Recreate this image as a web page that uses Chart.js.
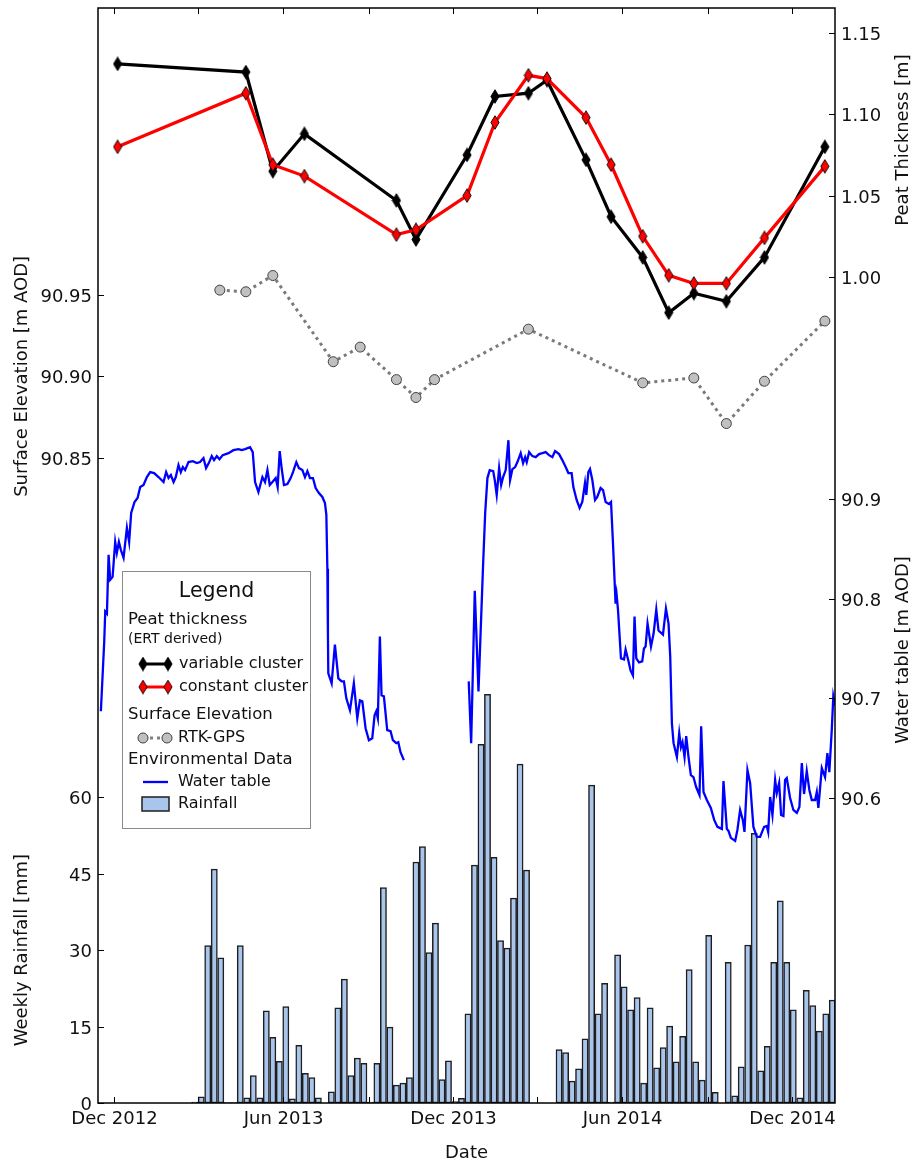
<!DOCTYPE html>
<html>
<head>
<meta charset="utf-8">
<script src="https://cdn.jsdelivr.net/npm/chart.js@4.4.1/dist/chart.umd.min.js"></script>
<style>
html,body{margin:0;padding:0;background:#fff;}
canvas{display:block;}
</style>
</head>
<body>
<canvas id="c" width="920" height="1161"></canvas>
<script>
// ---------------- DATA ----------------
// all dates are converted to "days since 2012-12-01"
const EPOCH = '2012-12-01';

// Peat thickness (ERT derived) [m]
const peatDates = ['2012-12-05','2013-04-22','2013-05-21','2013-06-24','2013-10-01','2013-10-22','2013-12-16','2014-01-15','2014-02-20','2014-03-12','2014-04-23','2014-05-20','2014-06-23','2014-07-21','2014-08-17','2014-09-21','2014-11-01','2015-01-05'];
const peatVariable = [1.131,1.126,1.065,1.088,1.047,1.023,1.075,1.111,1.113,1.121,1.072,1.037,1.012,0.978,0.990,0.985,1.012,1.080];
const peatConstant = [1.080,1.113,1.069,1.062,1.026,1.029,1.050,1.095,1.124,1.122,1.098,1.069,1.025,1.001,0.996,0.996,1.024,1.068];

// Surface elevation (RTK-GPS) [m AOD]
const gpsDates = ['2013-03-25','2013-04-22','2013-05-21','2013-07-25','2013-08-23','2013-10-01','2013-10-22','2013-11-11','2014-02-20','2014-06-23','2014-08-17','2014-09-21','2014-11-01','2015-01-05'];
const gpsElevation = [90.953,90.952,90.962,90.909,90.918,90.898,90.887,90.898,90.929,90.896,90.899,90.871,90.897,90.934];

// Water table [m AOD], two logger records (days since EPOCH)
const waterDays1 = [-14.0,-10.4,-9.3,-7.5,-5.7,-4.0,-1.4,1.4,3.2,5.4,7.5,10.4,14.0,16.4,18.6,22.2,25.5,28.3,31.9,35.5,39.0,43.3,48.0,53.4,56.2,58.8,61.3,64.2,66.6,69.5,72.0,74.2,76.6,80.3,84.9,89.2,92.7,96.4,99.2,102.1,105.3,107.8,110.7,113.6,117.1,123.3,128.6,134.0,137.6,141.1,146.5,149.4,151.9,155.5,159.8,162.6,165.2,167.7,170.6,174.1,176.2,178.4,180.5,183.0,186.7,190.2,192.7,196.3,199.1,202.8,205.6,208.2,211.0,214.2,217.1,220.6,224.3,227.1,228.6,229.7,230.3,230.7,234.3,237.8,241.5,245.0,247.5,250.1,254.0,258.2,261.9,264.7,267.3,270.8,274.4,278.0,280.5,282.3,284.0,286.2,288.0,290.5,294.1,297.7,300.2,303.8,306.0,308.4,312.0];
const waterLevel1 = [90.687,90.757,90.787,90.785,90.844,90.819,90.822,90.857,90.846,90.857,90.849,90.841,90.871,90.857,90.886,90.897,90.901,90.912,90.914,90.922,90.927,90.926,90.922,90.917,90.927,90.921,90.924,90.917,90.922,90.934,90.927,90.932,90.929,90.937,90.938,90.936,90.937,90.941,90.931,90.936,90.943,90.939,90.943,90.940,90.944,90.946,90.949,90.950,90.949,90.950,90.952,90.947,90.917,90.907,90.922,90.917,90.929,90.914,90.917,90.921,90.912,90.948,90.931,90.914,90.915,90.921,90.927,90.937,90.931,90.929,90.922,90.928,90.921,90.921,90.911,90.906,90.902,90.896,90.884,90.830,90.764,90.725,90.715,90.754,90.720,90.717,90.717,90.700,90.688,90.715,90.680,90.698,90.697,90.670,90.658,90.660,90.683,90.687,90.680,90.762,90.703,90.702,90.668,90.667,90.658,90.655,90.656,90.646,90.638];
const waterDays2 = [381.8,384.4,388.3,392.3,394.7,397.3,399.5,401.9,404.4,408.1,409.8,411.9,414.5,416.7,418.8,421.6,424.5,426.3,428.8,431.7,434.2,437.7,440.3,442.5,444.2,446.8,450.3,453.8,457.5,461.0,464.6,468.2,471.8,474.7,479.0,482.5,486.1,489.0,492.5,494.4,497.9,501.1,504.0,506.9,508.3,510.5,512.3,514.8,517.7,520.1,523.7,526.3,529.1,532.7,534.9,537.0,539.8,540.9,542.4,545.6,548.9,550.6,553.5,555.9,558.5,560.2,562.1,565.0,568.5,570.3,572.1,574.2,577.9,580.7,583.6,586.0,590.8,594.0,596.8,598.6,600.4,602.2,605.8,608.3,610.1,611.8,614.0,615.8,618.3,620.8,623.6,626.5,630.1,631.9,634.4,638.0,642.3,645.9,649.4,654.2,655.9,659.5,661.3,663.8,668.5,670.9,673.8,676.7,678.5,681.7,684.6,688.1,691.8,695.3,699.6,702.5,704.0,706.1,708.6,711.5,713.3,715.8,717.9,720.4,722.2,724.0,727.6,731.1,734.8,737.6,740.2,742.6,745.5,748.3,750.9,754.5,756.3,758.0,761.7,765.2,767.7,769.8,772.4,774.1,775.9];
const waterLevel2 = [90.717,90.655,90.808,90.707,90.769,90.835,90.886,90.921,90.929,90.928,90.919,90.904,90.931,90.914,90.922,90.929,90.959,90.919,90.930,90.932,90.937,90.946,90.936,90.942,90.937,90.947,90.943,90.942,90.945,90.946,90.947,90.944,90.942,90.948,90.945,90.939,90.932,90.926,90.926,90.912,90.899,90.891,90.897,90.916,90.904,90.927,90.930,90.919,90.899,90.902,90.911,90.909,90.897,90.895,90.897,90.856,90.795,90.804,90.789,90.740,90.739,90.749,90.738,90.728,90.723,90.782,90.740,90.736,90.737,90.750,90.752,90.775,90.752,90.765,90.789,90.768,90.764,90.790,90.775,90.742,90.675,90.655,90.641,90.665,90.651,90.656,90.641,90.662,90.641,90.623,90.621,90.611,90.603,90.672,90.606,90.598,90.590,90.578,90.571,90.569,90.617,90.569,90.567,90.560,90.557,90.568,90.588,90.578,90.566,90.628,90.615,90.571,90.561,90.561,90.571,90.572,90.566,90.601,90.583,90.618,90.605,90.615,90.583,90.582,90.618,90.620,90.600,90.588,90.585,90.591,90.635,90.604,90.627,90.608,90.598,90.598,90.606,90.590,90.630,90.621,90.645,90.626,90.668,90.702,90.693];

// Weekly rainfall [mm], consecutive weeks from rainStart (null = no record)
const rainStart = '2013-02-26';
const rainWeekly = [0.2,1.2,30.9,45.9,28.5,0.1,0.1,30.9,1.0,5.4,
  1.0,18.1,12.9,8.2,18.9,0.8,11.3,5.8,5.0,1.0,
  0,2.2,18.7,24.3,5.4,8.8,7.8,0.2,7.8,42.3,
  14.9,3.5,3.9,5.0,47.3,50.3,29.5,35.3,4.6,8.3,
  0.3,0.9,17.5,46.7,70.4,80.2,48.2,31.9,30.4,40.2,
  66.5,45.7,null,null,null,null,10.5,9.9,4.3,6.7,
  12.6,62.4,17.5,23.5,0.2,29.1,22.8,18.3,20.7,3.9,
  18.7,6.9,10.9,15.1,8.1,13.1,26.2,8.1,4.5,32.9,
  2.1,0,27.6,1.4,7.1,31.0,52.9,6.3,11.1,27.6,
  39.7,27.6,18.3,1.0,22.1,19.1,14.1,17.5,20.2];

// Axis ticks and labels
const xTickDates  = ['2012-12-01','2013-03-01','2013-06-01','2013-09-01','2013-12-01','2014-03-01','2014-06-01','2014-09-01','2014-12-01'];
const xTickLabels = ['Dec 2012','','Jun 2013','','Dec 2013','','Jun 2014','','Dec 2014'];
const xRange = ['2012-11-15', '2015-01-15'];
const surfTicks  = [90.85, 90.90, 90.95];
const surfLabels = ['90.85','90.90','90.95'];
const surfRange  = [90.4534, 91.1264];
const rainTicks  = [0, 15, 30, 45, 60];
const rainLabels = ['0','15','30','45','60'];
const rainRange  = [0, 214.9];
const peatTicks  = [1.00, 1.05, 1.10, 1.15];
const peatLabels = ['1.00','1.05','1.10','1.15'];
const peatRange  = [0.4919, 1.1654];
const waterTicks  = [90.6, 90.7, 90.8, 90.9];
const waterLabels = ['90.6','90.7','90.8','90.9'];
const waterRange  = [90.294, 91.3926];

const axisTitles = {
  x: 'Date',
  surf: 'Surface Elevation [m AOD]',
  rain: 'Weekly Rainfall [mm]',
  peat: 'Peat Thickness [m]',
  water: 'Water table [m AOD]'
};
const legendTexts = {
  title: 'Legend',
  peatHead: 'Peat thickness',
  peatSub: '(ERT derived)',
  variable: 'variable cluster',
  constant: 'constant cluster',
  surfHead: 'Surface Elevation',
  gps: 'RTK-GPS',
  envHead: 'Environmental Data',
  water: 'Water table',
  rain: 'Rainfall'
};

// ---------------- HELPERS ----------------
function dayOf(s) {
  const [y, m, d] = s.split('-').map(Number);
  const [ey, em, ed] = EPOCH.split('-').map(Number);
  return (Date.UTC(y, m - 1, d) - Date.UTC(ey, em - 1, ed)) / 864e5;
}
function makeDiamond(fill) {
  const w = 10, h = 15;
  const c = document.createElement('canvas');
  c.width = w; c.height = h;
  const g = c.getContext('2d');
  g.beginPath();
  g.moveTo(w / 2, 0.7);
  g.lineTo(w - 0.9, h / 2);
  g.lineTo(w / 2, h - 0.7);
  g.lineTo(0.9, h / 2);
  g.closePath();
  g.fillStyle = fill; g.fill();
  g.strokeStyle = '#000'; g.lineWidth = 0.9; g.stroke();
  return c;
}
const diamondBlack = makeDiamond('#000000');
const diamondRed = makeDiamond('#ff0000');

const BAR_FILL = '#a9c5ec';
const FONT = '"DejaVu Sans", "Liberation Sans", sans-serif';

const peatX = peatDates.map(dayOf);
const gpsX = gpsDates.map(dayOf);
const rainX0 = dayOf(rainStart);

const waterData = waterDays1.map((d, i) => ({x: d, y: waterLevel1[i]}))
  .concat([{x: (waterDays1[waterDays1.length - 1] + waterDays2[0]) / 2, y: null}])
  .concat(waterDays2.map((d, i) => ({x: d, y: waterLevel2[i]})));

// ---------------- AXES / LEGEND PLUGIN ----------------
const decorPlugin = {
  id: 'decor',
  afterDatasetsDraw(chart) {
    const ctx = chart.ctx, a = chart.chartArea, s = chart.scales;
    ctx.save();
    ctx.fillStyle = '#111';
    ctx.strokeStyle = '#000';
    const TL = 6;
    ctx.lineWidth = 1;
    ctx.font = '18px ' + FONT;
    ctx.textAlign = 'center';
    ctx.textBaseline = 'alphabetic';
    xTickDates.forEach((d, i) => {
      const px = Math.round(s.x.getPixelForValue(dayOf(d))) + 0.5;
      ctx.beginPath();
      ctx.moveTo(px, a.bottom); ctx.lineTo(px, a.bottom - TL);
      ctx.moveTo(px, a.top); ctx.lineTo(px, a.top + TL);
      ctx.stroke();
      if (xTickLabels[i]) ctx.fillText(xTickLabels[i], px, a.bottom + 21);
    });
    ctx.fillText(axisTitles.x, (a.left + a.right) / 2, a.bottom + 55);

    function yTicks(scale, ticks, labels, side) {
      ticks.forEach((v, i) => {
        const py = Math.round(scale.getPixelForValue(v)) + 0.5;
        ctx.beginPath();
        if (side === 'left') { ctx.moveTo(a.left, py); ctx.lineTo(a.left + TL, py); }
        else { ctx.moveTo(a.right, py); ctx.lineTo(a.right - TL, py); }
        ctx.stroke();
        ctx.textAlign = side === 'left' ? 'right' : 'left';
        ctx.fillText(labels[i], side === 'left' ? a.left - 6 : a.right + 6, py + 6.5);
      });
    }
    yTicks(s.ySurf, surfTicks, surfLabels, 'left');
    yTicks(s.yRain, rainTicks, rainLabels, 'left');
    yTicks(s.yPeat, peatTicks, peatLabels, 'right');
    yTicks(s.yWater, waterTicks, waterLabels, 'right');

    function vTitle(text, x, y) {
      ctx.save();
      ctx.translate(x, y);
      ctx.rotate(-Math.PI / 2);
      ctx.textAlign = 'center';
      ctx.textBaseline = 'middle';
      ctx.fillText(text, 0, 0);
      ctx.restore();
    }
    vTitle(axisTitles.surf, 22, s.ySurf.getPixelForValue(90.90));
    vTitle(axisTitles.rain, 22, s.yRain.getPixelForValue(30));
    vTitle(axisTitles.peat, 903, 140);
    vTitle(axisTitles.water, 903, 650);

    ctx.lineWidth = 1.5;
    ctx.strokeRect(a.left, a.top, a.right - a.left, a.bottom - a.top);

    // ---------- legend ----------
    const bx = 122.5, by = 571.5, bw = 188, bh = 257;
    ctx.fillStyle = '#fff';
    ctx.fillRect(bx, by, bw, bh);
    ctx.strokeStyle = '#8a8a8a';
    ctx.lineWidth = 1;
    ctx.strokeRect(bx, by, bw, bh);

    ctx.fillStyle = '#111';
    ctx.textBaseline = 'middle';
    ctx.textAlign = 'center';
    ctx.font = '20.5px ' + FONT;
    ctx.fillText(legendTexts.title, 216.5, 592);
    ctx.textAlign = 'left';
    ctx.font = '16.5px ' + FONT;
    ctx.fillText(legendTexts.peatHead, 128, 620);
    ctx.font = '14px ' + FONT;
    ctx.fillText(legendTexts.peatSub, 128, 639);
    ctx.font = '16px ' + FONT;
    ctx.fillText(legendTexts.variable, 179, 664);
    ctx.fillText(legendTexts.constant, 179, 687);
    ctx.font = '16.5px ' + FONT;
    ctx.fillText(legendTexts.surfHead, 128, 715);
    ctx.font = '16px ' + FONT;
    ctx.fillText(legendTexts.gps, 178, 738);
    ctx.font = '16.5px ' + FONT;
    ctx.fillText(legendTexts.envHead, 128, 760);
    ctx.font = '16px ' + FONT;
    ctx.fillText(legendTexts.water, 178, 782);
    ctx.fillText(legendTexts.rain, 178, 804);

    function lineHandle(color, y, lw, dash) {
      ctx.save();
      ctx.strokeStyle = color; ctx.lineWidth = lw;
      if (dash) ctx.setLineDash(dash);
      ctx.beginPath(); ctx.moveTo(143, y); ctx.lineTo(168, y); ctx.stroke();
      ctx.restore();
    }
    lineHandle('#000', 664, 3);
    ctx.drawImage(diamondBlack, 143 - 5, 664 - 7.5);
    ctx.drawImage(diamondBlack, 168 - 5, 664 - 7.5);
    lineHandle('#ff0000', 687, 3);
    ctx.drawImage(diamondRed, 143 - 5, 687 - 7.5);
    ctx.drawImage(diamondRed, 168 - 5, 687 - 7.5);
    lineHandle('#808080', 738, 3, [3, 4]);
    [143, 167].forEach(cx => {
      ctx.beginPath(); ctx.arc(cx, 738, 5, 0, Math.PI * 2);
      ctx.fillStyle = '#c0c0c0'; ctx.fill();
      ctx.strokeStyle = '#404040'; ctx.lineWidth = 1; ctx.stroke();
    });
    lineHandle('#0000ff', 782, 2.3);
    ctx.fillStyle = BAR_FILL;
    ctx.fillRect(142, 797, 27, 14);
    ctx.strokeStyle = '#1e1e1e'; ctx.lineWidth = 1.5;
    ctx.strokeRect(142, 797, 27, 14);
    ctx.restore();
  }
};

// ---------------- CHART ----------------
new Chart(document.getElementById('c'), {
  type: 'line',
  data: {
    datasets: [
      {
        type: 'bar',
        label: 'Rainfall',
        data: rainWeekly.map((v, i) => ({x: rainX0 + 7 * i, y: v})),
        xAxisID: 'x', yAxisID: 'yRain',
        backgroundColor: BAR_FILL,
        borderColor: '#1e1e1e',
        borderWidth: 1.5,
        borderSkipped: false,
        barThickness: 6.2,
        order: 5
      },
      {
        label: 'Water table',
        data: waterData,
        xAxisID: 'x', yAxisID: 'yWater',
        borderColor: '#0000ff',
        borderWidth: 2.3,
        pointRadius: 0,
        spanGaps: false,
        tension: 0,
        order: 4
      },
      {
        label: 'RTK-GPS',
        data: gpsX.map((d, i) => ({x: d, y: gpsElevation[i]})),
        xAxisID: 'x', yAxisID: 'ySurf',
        borderColor: '#7a7a7a',
        borderWidth: 3,
        borderDash: [3, 4],
        pointStyle: 'circle',
        pointRadius: 5,
        pointBackgroundColor: '#c0c0c0',
        pointBorderColor: '#404040',
        pointBorderWidth: 1,
        tension: 0,
        order: 3
      },
      {
        label: 'variable cluster',
        data: peatX.map((d, i) => ({x: d, y: peatVariable[i]})),
        xAxisID: 'x', yAxisID: 'yPeat',
        borderColor: '#000000',
        borderWidth: 3.2,
        pointStyle: diamondBlack,
        pointRadius: 6,
        tension: 0,
        order: 2
      },
      {
        label: 'constant cluster',
        data: peatX.map((d, i) => ({x: d, y: peatConstant[i]})),
        xAxisID: 'x', yAxisID: 'yPeat',
        borderColor: '#ff0000',
        borderWidth: 3.2,
        pointStyle: diamondRed,
        pointRadius: 6,
        tension: 0,
        order: 1
      }
    ]
  },
  options: {
    responsive: false,
    devicePixelRatio: 1,
    animation: false,
    events: [],
    layout: { padding: {left: 98, right: 85, top: 8, bottom: 58}, autoPadding: false },
    plugins: { legend: {display: false}, tooltip: {enabled: false}, title: {display: false} },
    scales: {
      x: { type: 'linear', display: false, offset: false, min: dayOf(xRange[0]) - 1.1, max: dayOf(xRange[1]) + 0.9 },
      ySurf: { type: 'linear', position: 'left', display: false, min: surfRange[0], max: surfRange[1] },
      yRain: { type: 'linear', position: 'left', display: false, min: rainRange[0], max: rainRange[1] },
      yPeat: { type: 'linear', position: 'right', display: false, min: peatRange[0], max: peatRange[1] },
      yWater: { type: 'linear', position: 'right', display: false, min: waterRange[0], max: waterRange[1] }
    }
  },
  plugins: [decorPlugin]
});
</script>
</body>
</html>
